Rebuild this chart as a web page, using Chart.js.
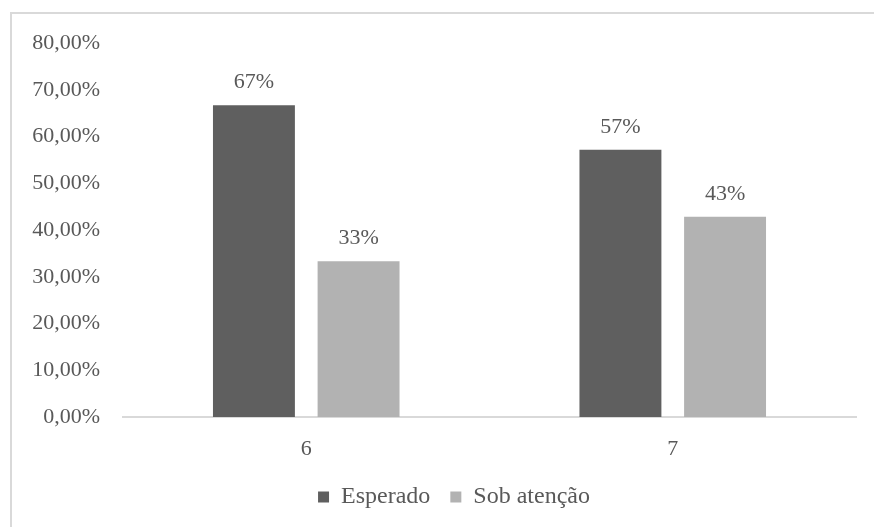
<!DOCTYPE html>
<html>
<head>
<meta charset="utf-8">
<script src="https://cdn.jsdelivr.net/npm/chart.js@4.4.1/dist/chart.umd.min.js"></script>
<style>
  html, body { margin: 0; padding: 0; background: #ffffff; }
  #wrap { position: relative; width: 874px; height: 527px; overflow: hidden; }
  #frame { position: absolute; left: 10px; top: 12px; width: 900px; height: 600px;
           border-left: 2px solid #d9d9d9; border-top: 2px solid #d9d9d9; box-sizing: border-box; }
  canvas { position: absolute; left: 0; top: 0; }
</style>
</head>
<body>
<div id="wrap">
  <div id="frame"></div>
  <canvas id="chart" width="874" height="527"></canvas>
</div>
<script>
// Groups on the x axis
const categories = ['6', '7'];
// Percentages per group
const esperado = [66.67, 57.14];
const sobAtencao = [33.33, 42.86];
// Y axis tick values
const yTicks = [0, 10, 20, 30, 40, 50, 60, 70, 80];
const seriesNames = ['Esperado', 'Sob atenção'];

const FONT = 'Liberation Serif, Times New Roman, serif';
const SIZE = 22;
const LEGEND_SIZE = 24;
const TEXT = '#595959';

// Writes the rounded percentage above every bar
const valueLabels = {
  id: 'valueLabels',
  afterDatasetsDraw(chart) {
    const ctx = chart.ctx;
    ctx.save();
    ctx.font = SIZE + 'px ' + FONT;
    ctx.fillStyle = TEXT;
    ctx.textAlign = 'center';
    ctx.textBaseline = 'alphabetic';
    chart.data.datasets.forEach((ds, i) => {
      chart.getDatasetMeta(i).data.forEach((bar, j) => {
        ctx.fillText(Math.round(ds.data[j]) + '%', bar.x, bar.y - 17);
      });
    });
    ctx.restore();
  }
};

// Centres the legend under the whole frame rather than the plot
const legendShift = {
  id: 'legendShift',
  afterLayout(chart) {
    if (chart.legend) {
      chart.legend.left += 26;
      chart.legend.right += 26;
    }
  }
};

new Chart(document.getElementById('chart'), {
  type: 'bar',
  data: {
    labels: categories,
    datasets: [
      { label: seriesNames[0], data: esperado, backgroundColor: '#5f5f5f',
        categoryPercentage: 0.571, barPercentage: 0.783 },
      { label: seriesNames[1], data: sobAtencao, backgroundColor: '#b2b2b2',
        categoryPercentage: 0.571, barPercentage: 0.783 }
    ]
  },
  options: {
    responsive: false,
    animation: false,
    layout: { padding: { left: 0, right: 18, top: 43, bottom: 8 } },
    plugins: {
      legend: {
        position: 'bottom',
        labels: {
          font: { family: FONT, size: LEGEND_SIZE },
          color: TEXT,
          boxWidth: 11,
          boxHeight: 11,
          padding: 20
        }
      },
      tooltip: { enabled: false }
    },
    scales: {
      x: {
        grid: { display: false },
        border: { display: true, color: '#d9d9d9', width: 2 },
        ticks: { font: { family: FONT, size: SIZE }, color: TEXT, padding: 11 },
        afterFit(s) { s.height = 48; }
      },
      y: {
        min: 0,
        max: 80,
        afterBuildTicks(s) { s.ticks = yTicks.map(v => ({ value: v })); },
        grid: { display: false },
        border: { display: false },
        ticks: {
          font: { family: FONT, size: SIZE },
          color: TEXT,
          padding: 15,
          callback: v => v.toFixed(2).replace('.', ',') + '%'
        },
        afterFit(s) { s.width = 123; }
      }
    }
  },
  plugins: [valueLabels, legendShift]
});
</script>
</body>
</html>
